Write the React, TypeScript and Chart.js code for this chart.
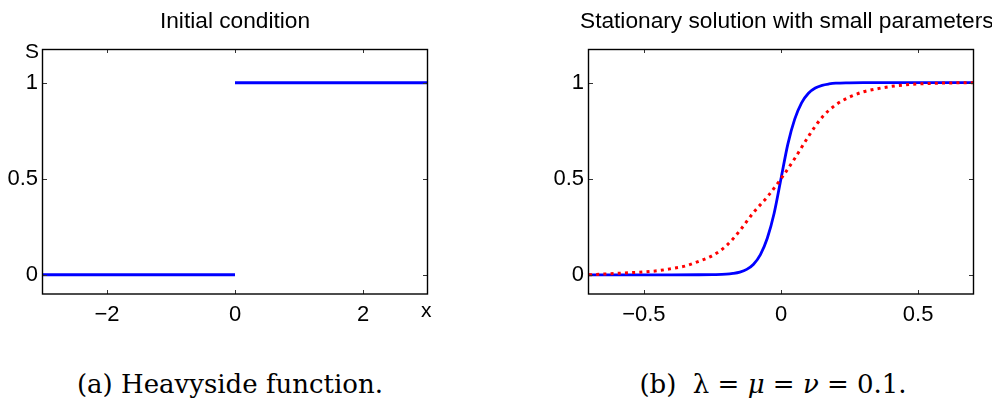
import React, { useEffect, useRef } from 'react';
import { Chart, registerables } from 'chart.js';

Chart.register(...registerables);

// ---------- data ----------
const yRange = [-0.1, 1.175];
const yTicks = [0, 0.5, 1];
const yTickLabels = ['0', '0.5', '1'];

const leftXRange = [-3, 3];
const leftXTicks = [-2, 0, 2];
const leftXTickLabels = ['\u22122', '0', '2'];

const rightXRange = [-0.7, 0.7];
const rightXTicks = [-0.5, 0, 0.5];
const rightXTickLabels = ['\u22120.5', '0', '0.5'];

// Heavyside initial condition (two pieces, no vertical jump drawn)
const stepLowX = [-3, 0];
const stepLowS = [0, 0];
const stepHighX = [0, 3];
const stepHighS = [1, 1];

// Stationary solution (blue solid)
const blueX = [-0.7, -0.5, -0.4, -0.3, -0.25, -0.2, -0.175, -0.15, -0.125, -0.1, -0.075, -0.05, -0.025, 0, 0.025, 0.05, 0.075, 0.1, 0.125, 0.15, 0.175, 0.2, 0.25, 0.3, 0.4, 0.5, 0.7];
const blueS = [0, 0, 0, 0.0002, 0.001, 0.003, 0.007, 0.014, 0.028, 0.055, 0.105, 0.19, 0.32, 0.5, 0.68, 0.81, 0.895, 0.945, 0.972, 0.986, 0.993, 0.997, 0.999, 1, 1, 1, 1];

// Comparison curve (red dotted)
const redX = [-0.7, -0.6, -0.5, -0.45, -0.4, -0.35, -0.3, -0.25, -0.2, -0.15, -0.1, -0.05, 0, 0.05, 0.1, 0.15, 0.2, 0.25, 0.3, 0.35, 0.4, 0.45, 0.5, 0.6, 0.7];
const redS = [0, 0.007, 0.015, 0.021, 0.032, 0.045, 0.07, 0.1, 0.15, 0.23, 0.325, 0.405, 0.5, 0.605, 0.72, 0.82, 0.885, 0.925, 0.952, 0.968, 0.98, 0.988, 0.993, 0.998, 1];

const leftTitle = 'Initial condition';
const rightTitle = 'Stationary solution with small parameters';
const yAxisLabel = 'S';
const xAxisLabel = 'x';

// ---------- helpers ----------
const SANS = '"Liberation Sans", Arial, Helvetica, sans-serif';
const SERIF = '"DejaVu Serif", serif';

const zip = (xs: number[], ys: number[]) => xs.map((x, i) => ({ x, y: ys[i] }));

const framePlugin = {
  id: 'matlabFrame',
  afterDraw(chart: any) {
    const { ctx, chartArea } = chart;
    const { left, right, top, bottom } = chartArea;
    ctx.save();
    const tl = 4;
    ctx.strokeStyle = '#333';
    ctx.lineWidth = 1;
    const xs = chart.scales.x;
    xs.ticks.forEach((t: any) => {
      const px = Math.round(xs.getPixelForValue(t.value)) + 0.5;
      ctx.beginPath();
      ctx.moveTo(px, bottom);
      ctx.lineTo(px, bottom - tl);
      ctx.moveTo(px, top);
      ctx.lineTo(px, top + tl);
      ctx.stroke();
    });
    const ys = chart.scales.y;
    ys.ticks.forEach((t: any) => {
      const py = Math.round(ys.getPixelForValue(t.value)) + 0.5;
      ctx.beginPath();
      ctx.moveTo(left, py);
      ctx.lineTo(left + tl, py);
      ctx.moveTo(right, py);
      ctx.lineTo(right - tl, py);
      ctx.stroke();
    });
    ctx.strokeStyle = '#000';
    ctx.lineWidth = 1.4;
    ctx.strokeRect(Math.round(left) - 0.5, Math.round(top) + 0.5, Math.round(right - left) + 1, Math.round(bottom - top) - 0.5);
    ctx.restore();
  },
};

function makeConfig(
  datasets: any[],
  xRange: number[],
  xTicks: number[],
  xLabels: string[],
  yAxisWidth: number,
  rightPad: number
): any {
  const tickFont = { family: SANS, size: 22 };
  return {
    type: 'scatter',
    data: { datasets },
    options: {
      animation: false,
      responsive: false,
      events: [],
      layout: { padding: { left: 0, top: 49, right: rightPad, bottom: 0 } },
      plugins: { legend: { display: false }, tooltip: { enabled: false }, title: { display: false } },
      scales: {
        x: {
          type: 'linear',
          min: xRange[0],
          max: xRange[1],
          grid: { display: false, drawTicks: false },
          border: { display: false },
          afterBuildTicks: (s: any) => {
            s.ticks = xTicks.map((v) => ({ value: v }));
          },
          afterFit: (s: any) => {
            s.height = 46;
          },
          ticks: {
            padding: 8,
            color: '#000',
            font: tickFont,
            autoSkip: false,
            maxRotation: 0,
            callback: (_v: any, i: number) => xLabels[i],
          },
        },
        y: {
          type: 'linear',
          min: yRange[0],
          max: yRange[1],
          grid: { display: false, drawTicks: false },
          border: { display: false },
          afterBuildTicks: (s: any) => {
            s.ticks = yTicks.map((v) => ({ value: v }));
          },
          afterFit: (s: any) => {
            s.width = yAxisWidth;
          },
          ticks: {
            padding: 5,
            color: '#000',
            font: tickFont,
            autoSkip: false,
            callback: (_v: any, i: number) => yTickLabels[i],
          },
        },
      },
    },
    plugins: [framePlugin],
  };
}

function ChartCanvas({ config, left }: { config: () => any; left: number }) {
  const ref = useRef<HTMLCanvasElement | null>(null);
  useEffect(() => {
    if (!ref.current) return;
    const chart = new Chart(ref.current, config());
    return () => chart.destroy();
  }, []);
  return (
    <canvas
      ref={ref}
      width={496}
      height={340}
      style={{ position: 'absolute', left, top: 0, width: 496, height: 340 }}
    />
  );
}

const blueLine = {
  borderColor: '#0000ff',
  backgroundColor: '#0000ff',
  borderWidth: 3,
  pointRadius: 0,
  showLine: true,
  tension: 0,
};

export default function App() {
  const leftConfig = () =>
    makeConfig(
      [
        { ...blueLine, data: zip(stepLowX, stepLowS) },
        { ...blueLine, data: zip(stepHighX, stepHighS) },
      ],
      leftXRange,
      leftXTicks,
      leftXTickLabels,
      43,
      69
    );
  const rightConfig = () =>
    makeConfig(
      [
        {
          data: zip(redX, redS),
          borderColor: '#ff0000',
          backgroundColor: '#ff0000',
          borderWidth: 3,
          borderDash: [3, 4.2],
          pointRadius: 0,
          showLine: true,
          cubicInterpolationMode: 'monotone',
        },
        {
          ...blueLine,
          borderWidth: 2.8,
          data: zip(blueX, blueS),
          cubicInterpolationMode: 'monotone',
        },
      ],
      rightXRange,
      rightXTicks,
      rightXTickLabels,
      93,
      19
    );

  const textBase: React.CSSProperties = {
    position: 'absolute',
    whiteSpace: 'nowrap',
    color: '#000',
    lineHeight: 1,
  };

  return (
    <div
      style={{
        position: 'absolute',
        left: 0,
        top: 0,
        width: 992,
        height: 403,
        background: '#fff',
        overflow: 'hidden',
      }}
    >
      <ChartCanvas config={leftConfig} left={0} />
      <ChartCanvas config={rightConfig} left={496} />

      <div style={{ ...textBase, left: 35, width: 400, top: 9, textAlign: 'center', fontFamily: SANS, fontSize: 22.7 }}>
        {leftTitle}
      </div>
      <div style={{ ...textBase, left: 580, width: 400, top: 9, textAlign: 'center', fontFamily: SANS, fontSize: 22.7 }}>
        {rightTitle}
      </div>
      <div style={{ ...textBase, left: 25, top: 40, fontFamily: SANS, fontSize: 21 }}>{yAxisLabel}</div>
      <div style={{ ...textBase, left: 421, top: 299, fontFamily: SANS, fontSize: 21 }}>{xAxisLabel}</div>

      <div style={{ ...textBase, left: 30, width: 400, top: 371, textAlign: 'center', fontFamily: SERIF, fontSize: 26 }}>
        (a) Heavyside function.
      </div>
      <div style={{ ...textBase, left: 573, width: 400, top: 371, textAlign: 'center', fontFamily: SERIF, fontSize: 26 }}>
        (b)&nbsp; λ = <i>μ</i> = <i>ν</i> = 0.1.
      </div>
    </div>
  );
}
